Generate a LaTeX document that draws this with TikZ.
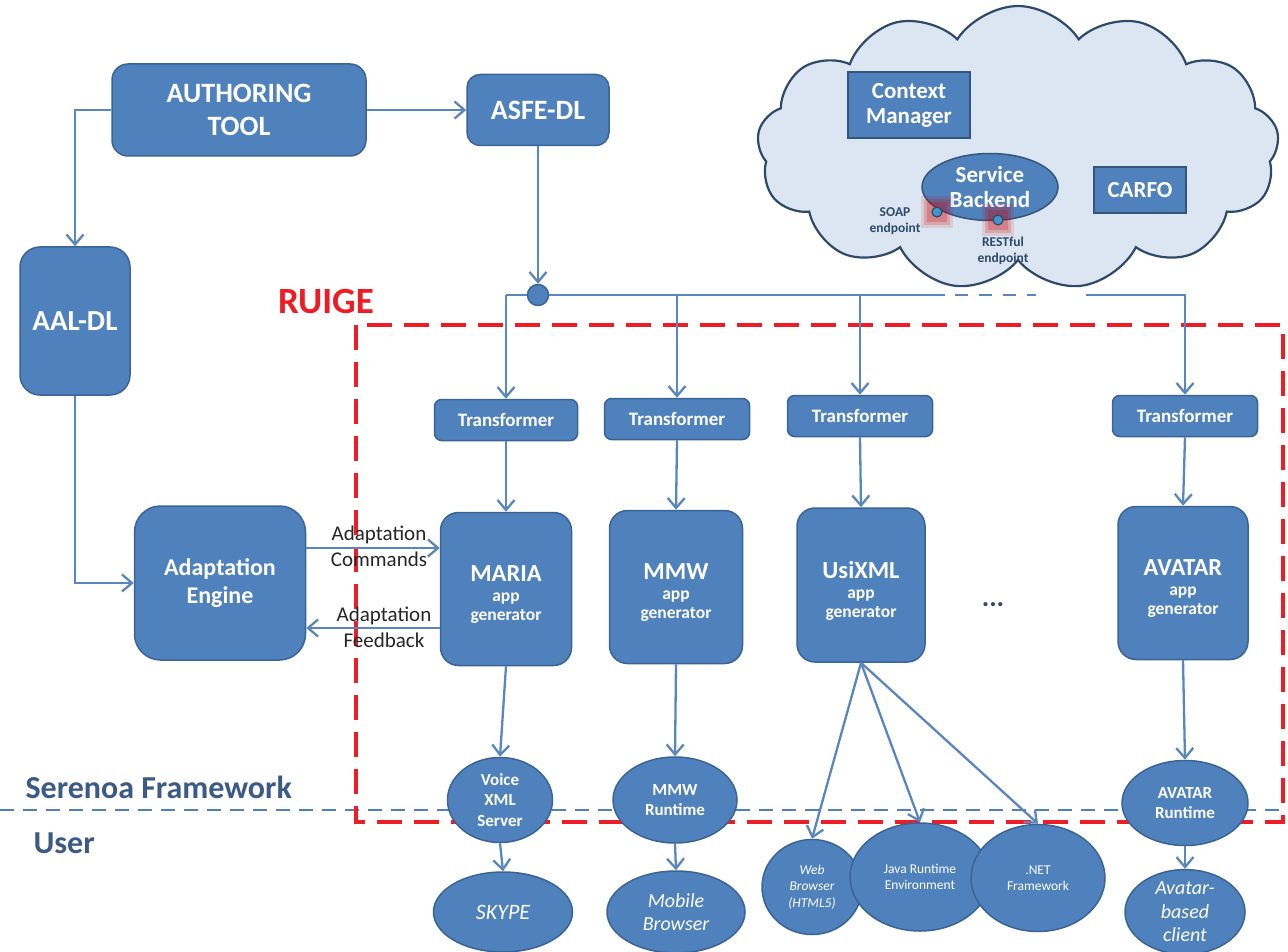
\documentclass[tikz,border=0pt]{standalone}
\usepackage{fontspec}
\setmainfont{Carlito}
\usetikzlibrary{arrows.meta,shapes.geometric,shapes.symbols}

\definecolor{boxblue}{HTML}{4F81BD}
\definecolor{boxedge}{HTML}{3A6396}
\definecolor{linkblue}{HTML}{5A86BE}
\definecolor{cloudfill}{HTML}{DCE6F2}
\definecolor{cloudedge}{HTML}{2E4A6B}
\definecolor{ruigered}{HTML}{EE1C25}
\definecolor{labelnavy}{HTML}{3C5A86}
\definecolor{labeltext}{HTML}{262626}

\newcommand\fsz[2]{\fontsize{#1}{#2}\selectfont}

\tikzset{
  box/.style={draw=boxedge, line width=1.5pt, fill=boxblue, text=white,
    align=center, inner sep=0pt},
  blob/.style={ellipse, draw=boxedge, line width=1.5pt, fill=boxblue,
    text=white, align=center, inner sep=0pt},
  wire/.style={draw=linkblue, line width=2.3pt},
  link/.style={wire, -{Straight Barb[length=10pt,width=17pt,line width=2.3pt]}},
  xform/.style={box, rounded corners=7pt, minimum height=41pt,
    font={\bfseries\fsz{19}{22}}},
  gen/.style={box, rounded corners=18pt, minimum width=131pt,
    minimum height=153pt},
  gentext/.style={text=white, align=center, inner sep=0pt,
    font={\bfseries\fsz{17.5}{19.5}}},
  runtime/.style={blob, font={\bfseries\fsz{17}{20.5}}},
  client/.style={blob, font={\itshape\fsz{20}{23.5}}},
  platform/.style={blob, font={\fsz{13.5}{16}}},
  flowlabel/.style={text=labeltext, align=center, font={\fsz{21}{26}}},
  layer/.style={text=labelnavy, anchor=west, font={\bfseries\fsz{32}{34}}},
  eplabel/.style={text=cloudedge, align=center, font={\bfseries\fsz{13.5}{16}}},
  incloud/.style={draw=cloudedge!80!boxblue, line width=1.5pt, fill=boxblue,
    text=white, align=center, inner sep=0pt, font={\bfseries\fsz{23}{25}}}
}

\begin{document}
\begin{tikzpicture}[x=1pt,y=-1pt]
\useasboundingbox (0,0) rectangle (1288,952);

% ---------- service cloud ----------
\node[cloud, cloud puffs=13, cloud puff arc=115, cloud ignores aspect,
      draw=cloudedge, fill=cloudfill, line width=2.2pt,
      minimum width=522pt, minimum height=284pt] (cloud) at (1018,148) {};
\node[incloud, minimum width=122pt, minimum height=66pt] (ctx) at (909,105) {Context\\Manager};
\node[incloud, ellipse, minimum width=136pt, minimum height=67pt] (svc) at (990,187) {Service\\Backend};
\node[incloud, minimum width=92pt, minimum height=46pt] (carfo) at (1140,190) {CARFO};

% endpoints of the service backend, each with a soft red halo
\foreach \n/\p in {soapEP/{(937,212)}, restEP/{(998,220)}}{
  \fill[red!80!black, opacity=0.12] \p ++(-16,-16) rectangle ++(32,32);
  \fill[red!80!black, opacity=0.18] \p ++(-13,-13) rectangle ++(26,26);
  \fill[red!80!black, opacity=0.22] \p ++(-10,-10) rectangle ++(20,20);
  \node[circle, fill=boxblue!85!cyan, draw=cloudedge, line width=1.2pt,
        minimum size=10pt, inner sep=0pt] (\n) at \p {};
}
\node[eplabel] (soapLbl) at (895,221) {SOAP\\endpoint};
\node[eplabel] (restLbl) at (1003,251) {RESTful\\endpoint};

% ---------- layer separator and RUIGE frame ----------
\coordinate (sepL) at (0,810);
\coordinate (sepR) at (1288,810);
\draw[draw=boxblue, line width=2pt, dash pattern=on 14pt off 9pt] (sepL) -- (sepR);
\node[layer] (serenoa) at (22,787) {Serenoa Framework};
\node[layer] (user) at (30,843) {User};

\coordinate (frameTL) at (356,325);
\coordinate (frameBR) at (1283,822);
\draw[draw=ruigered, line width=3.5pt, dash pattern=on 25pt off 12pt]
  (frameTL) rectangle (frameBR);
\node[text=ruigered, font={\bfseries\fsz{37}{40}}] (ruige) at (326,302) {RUIGE};

% ---------- authoring side ----------
\node[box, rounded corners=16pt, minimum width=254pt, minimum height=92pt,
      font={\bfseries\fsz{28}{33}}] (auth) at (239,110) {AUTHORING\\TOOL};
\node[box, rounded corners=13pt, minimum width=142pt, minimum height=71pt,
      font={\bfseries\fsz{28}{33}}] (asfe) at (538,110) {ASFE-DL};
\node[box, rounded corners=20pt, minimum width=110pt, minimum height=148pt,
      font={\bfseries\fsz{29}{33}}] (aal) at (75,321) {AAL-DL};
\node[box, rounded corners=26pt, minimum width=171pt, minimum height=154pt,
      font={\bfseries\fsz{24}{28}}] (engine) at (220,583) {Adaptation\\Engine};

\draw[link] (auth.east) -- (asfe.west);
\draw[link] (auth.west) -| (aal.north);
\draw[link] (aal.south) |- (engine.west);

% ---------- distribution bus ----------
\node[circle, fill=boxblue, draw=boxedge, line width=1.5pt,
      minimum size=21pt, inner sep=0pt] (hub) at (538,295) {};
\draw[link] (asfe.south) -- (hub.north);

\node[xform, minimum width=143pt] (t1) at (506,420) {Transformer};
\node[xform, minimum width=145pt] (t2) at (677,419) {Transformer};
\node[xform, minimum width=145pt] (t3) at (860,416) {Transformer};
\node[xform, minimum width=145pt] (t4) at (1185,416) {Transformer};

\coordinate (busL) at (506,295);
\coordinate (busA) at (945,295);
\coordinate (busB) at (955,295);
\coordinate (busC) at (1036,295);
\coordinate (busR) at (1086,295);
\draw[wire] (hub.west) -- (busL);
\draw[wire] (hub.east) -- (busA);
\draw[wire, dash pattern=on 13pt off 11pt] (busB) -- (busC);
\draw[link] (busL) -- (t1.north);
\draw[link] (t2.north |- busL) -- (t2.north);
\draw[link] (t3.north |- busL) -- (t3.north);
\draw[link] (busR) -| (t4.north);

% ---------- app generators ----------
\node[gen] (maria) at (506,589) {};
\node[gen, minimum width=133pt] (mmw) at (676,587) {};
\node[gen, minimum width=128pt, minimum height=154pt] (usi) at (861,585) {};
\node[gen, minimum width=130pt] (avatar) at (1183,583) {};
\node[gentext] (mariaTxt) at ([yshift=-6pt]maria.center) {{\fsz{24.5}{26}MARIA}\\app\\generator};
\node[gentext] (mmwTxt) at ([yshift=-6pt]mmw.center) {{\fsz{24.5}{26}MMW}\\app\\generator};
\node[gentext] (usiTxt) at ([yshift=-6pt]usi.center) {{\fsz{24.5}{26}UsiXML}\\app\\generator};
\node[gentext] (avatarTxt) at ([yshift=-6pt]avatar.center) {{\fsz{24.5}{26}AVATAR}\\app\\generator};
\node[text=cloudedge, font={\bfseries\fsz{28}{30}}] (dots) at (993,605) {...};

\draw[link] (t1.south) -- (maria.north);
\draw[link] (t2.south) -- (mmw.north);
\draw[link] (t3.south) -- (usi.north);
\draw[link] (t4.south) -- (avatar.north);

% adaptation loop
\draw[link] (engine.east |- 0,548) -- (maria.west |- 0,548);
\draw[link] (maria.west |- 0,628) -- (engine.east |- 0,628);
\node[flowlabel] (cmdLbl) at (379,546) {Adaptation\\Commands};
\node[flowlabel] (fbLbl) at (384,627) {Adaptation\\Feedback};

% ---------- runtimes and clients ----------
\node[runtime, minimum width=105pt, minimum height=85pt] (voice) at (500,800) {Voice\\XML\\Server};
\node[runtime, minimum width=124pt, minimum height=86pt] (mmwrt) at (675,800) {MMW\\Runtime};
\node[runtime, minimum width=126pt, minimum height=85pt] (avrt) at (1185,803) {AVATAR\\Runtime};

\node[client, minimum width=139pt, minimum height=80pt, font={\itshape\fsz{22}{25}}] (skype) at (503,912) {SKYPE};
\node[client, minimum width=138pt, minimum height=82pt] (mobile) at (676,912) {Mobile\\Browser};
\node[client, minimum width=120pt, minimum height=82pt] (avclient) at (1185,912) {Avatar-\\based\\client};

\node[platform, minimum width=100pt, minimum height=95pt, font={\itshape\fsz{13.5}{16.5}}] (web) at (812,887) {Web\\Browser\\(HTML5)};
\node[platform, minimum width=140pt, minimum height=108pt] (java) at (920,877) {Java Runtime\\Environment};
\node[platform, minimum width=134pt, minimum height=107pt] (net) at (1038,878) {.NET\\Framework};

\draw[link] (maria.south) -- (voice.north);
\draw[link] (mmw.south) -- (mmwrt.north);
\draw[link] (avatar.south) -- (avrt.north);
\draw[link] (voice.south) -- (skype.north);
\draw[link] (mmwrt.south) -- (mobile.north);
\draw[link] (avrt.south) -- (avclient.north);
\draw[link] (usi.south) -- (web.north);
\draw[link] (usi.south) -- (java.north);
\draw[link] (usi.south) -- (net.north);
\end{tikzpicture}
\end{document}
